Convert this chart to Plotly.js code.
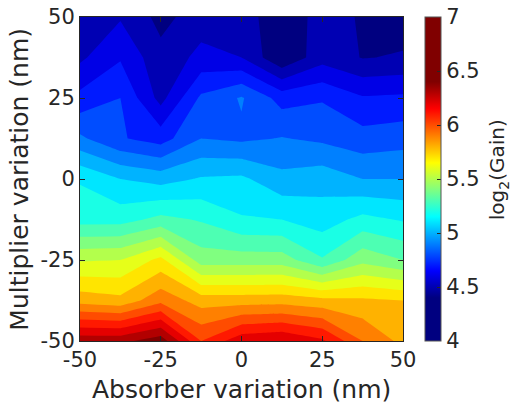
<!DOCTYPE html>
<html>
<head>
<meta charset="utf-8">
<script src="https://cdn.plot.ly/plotly-3.0.1.min.js"></script>
<style>html,body{margin:0;padding:0;background:#fff;}#chart{width:514px;height:405px;}</style>
</head>
<body>
<div id="chart"></div>
<script>
// Grid coordinates (nm)
const absorber = [-50, -37.5, -25, -12.5, 0, 12.5, 25, 37.5, 50];
const multiplier = [-50, -37.5, -25, -12.5, 0, 12.5, 25, 37.5, 50];

// log2(Gain) values, one row per multiplier value (bottom to top), columns follow absorber
const gainRowM50   = [6.37, 6.37, 6.46, 6.10, 6.27, 6.30, 6.22, 6.00, 5.87];
const gainRowM37   = [5.86, 5.83, 5.97, 5.855, 5.855, 5.86, 5.83, 5.82, 5.80];
const gainRowM25   = [5.59, 5.60, 5.73, 5.45, 5.45, 5.45, 5.31, 5.47, 5.40];
const gainRowM12   = [5.26, 5.26, 5.33, 5.29, 5.21, 5.20, 5.15, 5.23, 5.19];
const gainRow0     = [5.19, 5.10, 5.06, 5.11, 5.12, 5.03, 5.06, 5.00, 5.00];
const gainRowP12   = [4.92, 4.81, 4.755, 4.90, 4.88, 4.905, 4.88, 4.84, 4.86];
const gainRowP25   = [4.73, 4.80, 4.565, 4.82, 4.91, 4.76, 4.79, 4.71, 4.72];
const gainRowP37   = [4.58, 4.69, 4.53, 4.63, 4.60, 4.41, 4.56, 4.495, 4.51];
const gainRowP50   = [4.55, 4.59, 4.47, 4.55, 4.55, 4.43, 4.54, 4.49, 4.45];

const axisTickVals = [-50, -25, 0, 25, 50];
const axisTickText = ['-50', '-25', '0', '25', '50'];
const cbTickVals = [4, 4.5, 5, 5.5, 6, 6.5, 7];
const cbTickText = ['4', '4.5', '5', '5.5', '6', '6.5', '7'];

const z = [gainRowM50, gainRowM37, gainRowM25, gainRowM12, gainRow0,
           gainRowP12, gainRowP25, gainRowP37, gainRowP50];

// --- styling: MATLAB-like jet colormap spanning 4.4 .. 6.4 (clamped) ---
function jet(t) {
  t = Math.max(0, Math.min(1, t));
  const c = v => Math.round(255 * Math.max(0, Math.min(1, v)));
  return 'rgb(' + c(1.5 - Math.abs(4 * t - 3)) + ',' + c(1.5 - Math.abs(4 * t - 2)) + ',' + c(1.5 - Math.abs(4 * t - 1)) + ')';
}
const LV0 = 4.4, LV1 = 6.4, STEP = 0.1;
const nLevels = Math.round((LV1 - LV0) / STEP) + 1; // 21
// contour fill colorscale: band with lower level v gets jet((v-4.4)/2)
const contourScale = [[0, jet(0)]];
for (let j = 0; j < nLevels; j++) {
  contourScale.push([(j + 1) / nLevels, jet(j * STEP / (LV1 - LV0))]);
}
// continuous colorbar scale over [4, 7]
const cbScale = [];
for (let i = 0; i <= 60; i++) {
  const p = i / 60;
  const zz = 4 + 3 * p;
  cbScale.push([p, jet((zz - LV0) / (LV1 - LV0))]);
}

const ink = '#262626';
const data = [
  {
    type: 'contour',
    x: absorber, y: multiplier, z: z,
    autocontour: false,
    contours: {start: LV0, end: LV1, size: STEP, coloring: 'fill', showlines: false},
    line: {width: 0, smoothing: 0},
    colorscale: contourScale,
    showscale: false,
    hoverinfo: 'skip'
  },
  {
    type: 'scatter', mode: 'markers',
    x: [0, 0], y: [0, 0],
    hoverinfo: 'skip',
    marker: {
      size: 1, opacity: 0,
      color: [4, 7], cmin: 4, cmax: 7,
      colorscale: cbScale, showscale: true,
      colorbar: {
        x: (425 - 80) / 323, xanchor: 'left', xpad: 0, ypad: 0,
        y: 0.5, yanchor: 'middle', len: 1, lenmode: 'fraction',
        thickness: 16, thicknessmode: 'pixels',
        outlinewidth: 1, outlinecolor: '#555',
        tickmode: 'array', tickvals: cbTickVals, ticktext: cbTickText,
        ticks: 'inside', ticklen: 4, tickcolor: ink,
        tickfont: {family: 'DejaVu Sans', size: 21, color: ink}
      }
    }
  }
];

const axisCommon = {
  range: [-50, 50],
  tickmode: 'array', tickvals: axisTickVals, ticktext: axisTickText,
  ticks: 'inside', ticklen: 5, tickcolor: ink, tickwidth: 1,
  showline: true, mirror: 'allticks', linecolor: ink, linewidth: 1,
  showgrid: false, zeroline: false,
  tickfont: {family: 'DejaVu Sans', size: 21, color: ink}
};

const layout = {
  width: 514, height: 405,
  margin: {l: 80, r: 111, t: 17, b: 64, pad: 0},
  paper_bgcolor: '#fff', plot_bgcolor: '#fff',
  font: {family: 'DejaVu Sans', size: 21, color: ink},
  showlegend: false,
  xaxis: Object.assign({}, axisCommon),
  yaxis: Object.assign({}, axisCommon),
  annotations: [
    {text: 'Absorber variation (nm)', xref: 'paper', yref: 'paper', x: 0.5, y: -0.15,
     xanchor: 'center', yanchor: 'middle', showarrow: false, font: {size: 25, color: ink}},
    {text: 'Multiplier variation (nm)', xref: 'paper', yref: 'paper', x: -0.19, y: 0.5,
     xanchor: 'center', yanchor: 'middle', textangle: -90, showarrow: false, font: {size: 25, color: ink}},
    {text: 'log<sub>2</sub>(Gain)', xref: 'paper', yref: 'paper', x: 1.295, y: 0.528,
     xanchor: 'center', yanchor: 'middle', textangle: -90, showarrow: false, font: {size: 20, color: ink}}
  ]
};

Plotly.newPlot('chart', data, layout, {staticPlot: true, displayModeBar: false});
</script>
</body>
</html>
